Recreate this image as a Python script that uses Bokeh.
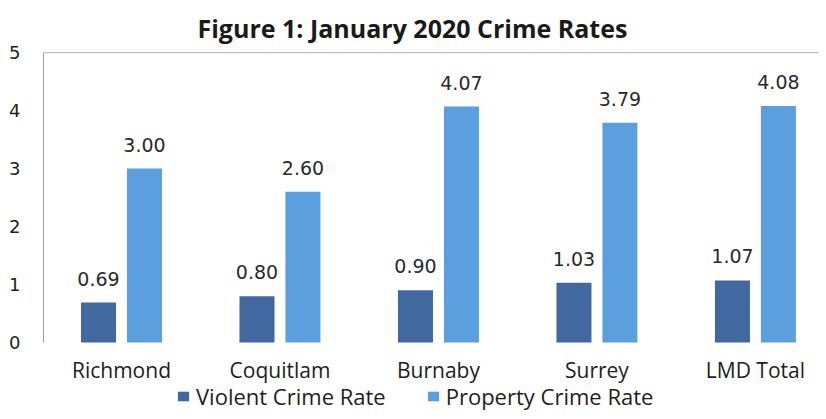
from bokeh.plotting import figure
from bokeh.models import ColumnDataSource, FixedTicker, Legend, LegendItem, Span
from bokeh.core.properties import value
from bokeh.embed import file_html
from bokeh.resources import INLINE

categories = ["Richmond", "Coquitlam", "Burnaby", "Surrey", "LMD Total"]
violent = [0.69, 0.80, 0.90, 1.03, 1.07]
propert = [3.00, 2.60, 4.07, 3.79, 4.08]
y_ticks = [0, 1, 2, 3, 4, 5]
title_text = "Figure 1: January 2020 Crime Rates"

VIOLENT_C = "#41689f"
PROPERTY_C = "#5b9fdf"

idx = list(range(len(categories)))
off = 0.145
bw = 0.221

src_v = ColumnDataSource(dict(x=[i - off for i in idx], top=violent,
                              lab=["%.2f" % v for v in violent]))
src_p = ColumnDataSource(dict(x=[i + off for i in idx], top=propert,
                              lab=["%.2f" % v for v in propert]))
src_c = ColumnDataSource(dict(x=idx, y=[0] * len(idx), name=categories))

# frame extends to the bottom of the canvas so the legend fits inside it
p = figure(width=818, height=411, output_backend="svg", toolbar_location=None,
           x_range=(-0.492, 4.398), y_range=(-1.19, 5.02),
           min_border_left=43, min_border_right=0, min_border_top=51, min_border_bottom=0)
p.outline_line_color = None
p.background_fill_color = "white"
p.border_fill_color = "white"

p.title.text = title_text
p.title.align = "left"
p.title.offset = 154
p.title.standoff = 14
p.title.text_font = "Open Sans"
p.title.text_font_style = "bold"
p.title.text_font_size = "25px"
p.title.text_color = "#1a1a1a"

rv = p.vbar(x="x", top="top", width=bw, bottom=0, source=src_v, fill_color=VIOLENT_C, line_color=None)
rp = p.vbar(x="x", top="top", width=bw, bottom=0, source=src_p, fill_color=PROPERTY_C, line_color=None)

for src in (src_v, src_p):
    p.text(x="x", y="top", text="lab", source=src, text_align="center", text_baseline="alphabetic",
           y_offset=-24, text_font=value("DejaVu Sans"), text_font_size="19px", text_color="#2a2a2a")

# category labels under the bars
p.text(x="x", y="y", text="name", source=src_c, text_align="center", text_baseline="alphabetic",
       y_offset=27, text_font=value("Open Sans"), text_font_size="21px", text_color="#1e1e1e")

p.xgrid.grid_line_color = None
p.ygrid.grid_line_color = None
p.add_layout(Span(location=5, dimension="width", line_color="#b0b0b0", line_width=1))

p.xaxis.visible = False

p.yaxis.ticker = FixedTicker(ticks=y_ticks)
p.yaxis.bounds = (0, 5)
p.yaxis.axis_line_color = "#9a9a9a"
p.yaxis.major_tick_line_color = None
p.yaxis.minor_tick_line_color = None
p.yaxis.major_label_standoff = 17
p.yaxis.major_label_text_font = "DejaVu Sans"
p.yaxis.major_label_text_font_size = "18px"
p.yaxis.major_label_text_color = "#222222"

legend = Legend(items=[LegendItem(label="Violent Crime Rate", renderers=[rv]),
                       LegendItem(label="Property Crime Rate", renderers=[rp])],
                orientation="horizontal", location=(133, 0),
                glyph_width=14, glyph_height=12, label_text_font="Open Sans",
                label_text_font_size="22px", label_text_color="#1e1e1e",
                spacing=40, label_standoff=6, padding=0, margin=0, label_height=20,
                border_line_color=None, background_fill_alpha=0)
p.add_layout(legend, "center")

open("out.html", "w").write(file_html(p, INLINE))
